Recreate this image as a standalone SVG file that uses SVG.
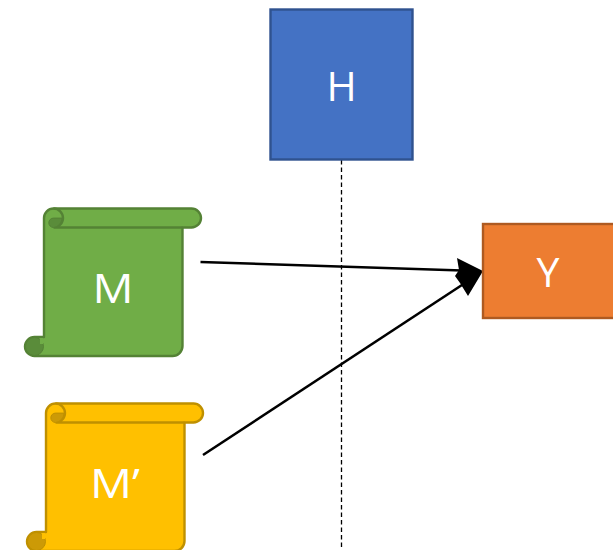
<svg xmlns="http://www.w3.org/2000/svg" width="613" height="550" viewBox="0 0 613 550">
<style>
text{font-family:"Open Sans","Liberation Sans",sans-serif;fill:#fff;text-anchor:middle;font-size:41px}
.arrow{stroke:#000;stroke-width:2.600;fill:none}
.outline{stroke-width:2.400;stroke-linejoin:round}
.green{fill:#70ad47;stroke:#548235}
.gold{fill:#ffc000;stroke:#bf9000}
.dgreen{fill:#5a8c3a;stroke:#548235;stroke-width:1}
.dgold{fill:#cc9a06;stroke:#bf9000;stroke-width:1}
</style>
<g id="connectors">
<line x1="341.500" y1="160" x2="341.500" y2="550" stroke="#000" stroke-width="1.300" stroke-dasharray="4.500 3"/>
<line class="arrow" x1="200.500" y1="262" x2="462" y2="270.500"/>
<line class="arrow" x1="203" y1="455" x2="465" y2="283"/>
<polygon points="483,271 457,258 459,270 455,276 460,283 468,296" fill="#000"/>
</g>
<g id="node-H">
<rect x="270.500" y="9.500" width="142" height="150" fill="#4472c4" stroke="#2f528f" stroke-width="2.400"/>
<text x="341.500" y="101">H</text>
</g>
<g id="node-M">
<path class="outline green" d="M53.500 208.500H191.500a9.500 9.500 0 0 1 0 19H182.500V346a10 10 0 0 1-10 10H34.500a9.500 9.500 0 0 1-9.500-9.500a9.500 9.500 0 0 1 9.500-9.500H44V218a9.500 9.500 0 0 1 9.500-9.500Z"/>
<path class="outline green" style="fill:none" d="M53.500 227.500H182.500M53.500 208.500a9.500 9.500 0 0 1 0 19"/>
<path class="dgreen" d="M53.500 227.500a4.700 4.700 0 0 1 0-9.400h8.500a9.500 9.500 0 0 1-8.500 9.400Z"/>
<circle class="dgreen" cx="34.500" cy="346.500" r="9"/>
<rect x="40" y="338" width="3" height="6" fill="#70ad47"/>
<text x="113" y="302.500" textLength="41" lengthAdjust="spacingAndGlyphs">M</text>
</g>
<g id="node-M-prime">
<path class="outline gold" d="M55.500 403.500H193.500a9.500 9.500 0 0 1 0 19H184.500V541a10 10 0 0 1-10 10H36.500a9.500 9.500 0 0 1-9.500-9.500a9.500 9.500 0 0 1 9.500-9.500H46V413a9.500 9.500 0 0 1 9.500-9.500Z"/>
<path class="outline gold" style="fill:none" d="M55.500 422.500H184.500M55.500 403.500a9.500 9.500 0 0 1 0 19"/>
<path class="dgold" d="M55.500 422.500a4.700 4.700 0 0 1 0-9.400h8.500a9.500 9.500 0 0 1-8.500 9.400Z"/>
<circle class="dgold" cx="36.500" cy="541.500" r="9"/>
<rect x="42" y="533" width="3" height="6" fill="#ffc000"/>
<text x="115" y="497.500" textLength="50" lengthAdjust="spacingAndGlyphs">M’</text>
</g>
<g id="node-Y">
<rect x="483" y="224" width="133" height="94" fill="#ed7d31" stroke="#ae5a21" stroke-width="2.400"/>
<text x="548" y="287">Y</text>
</g>
</svg>
